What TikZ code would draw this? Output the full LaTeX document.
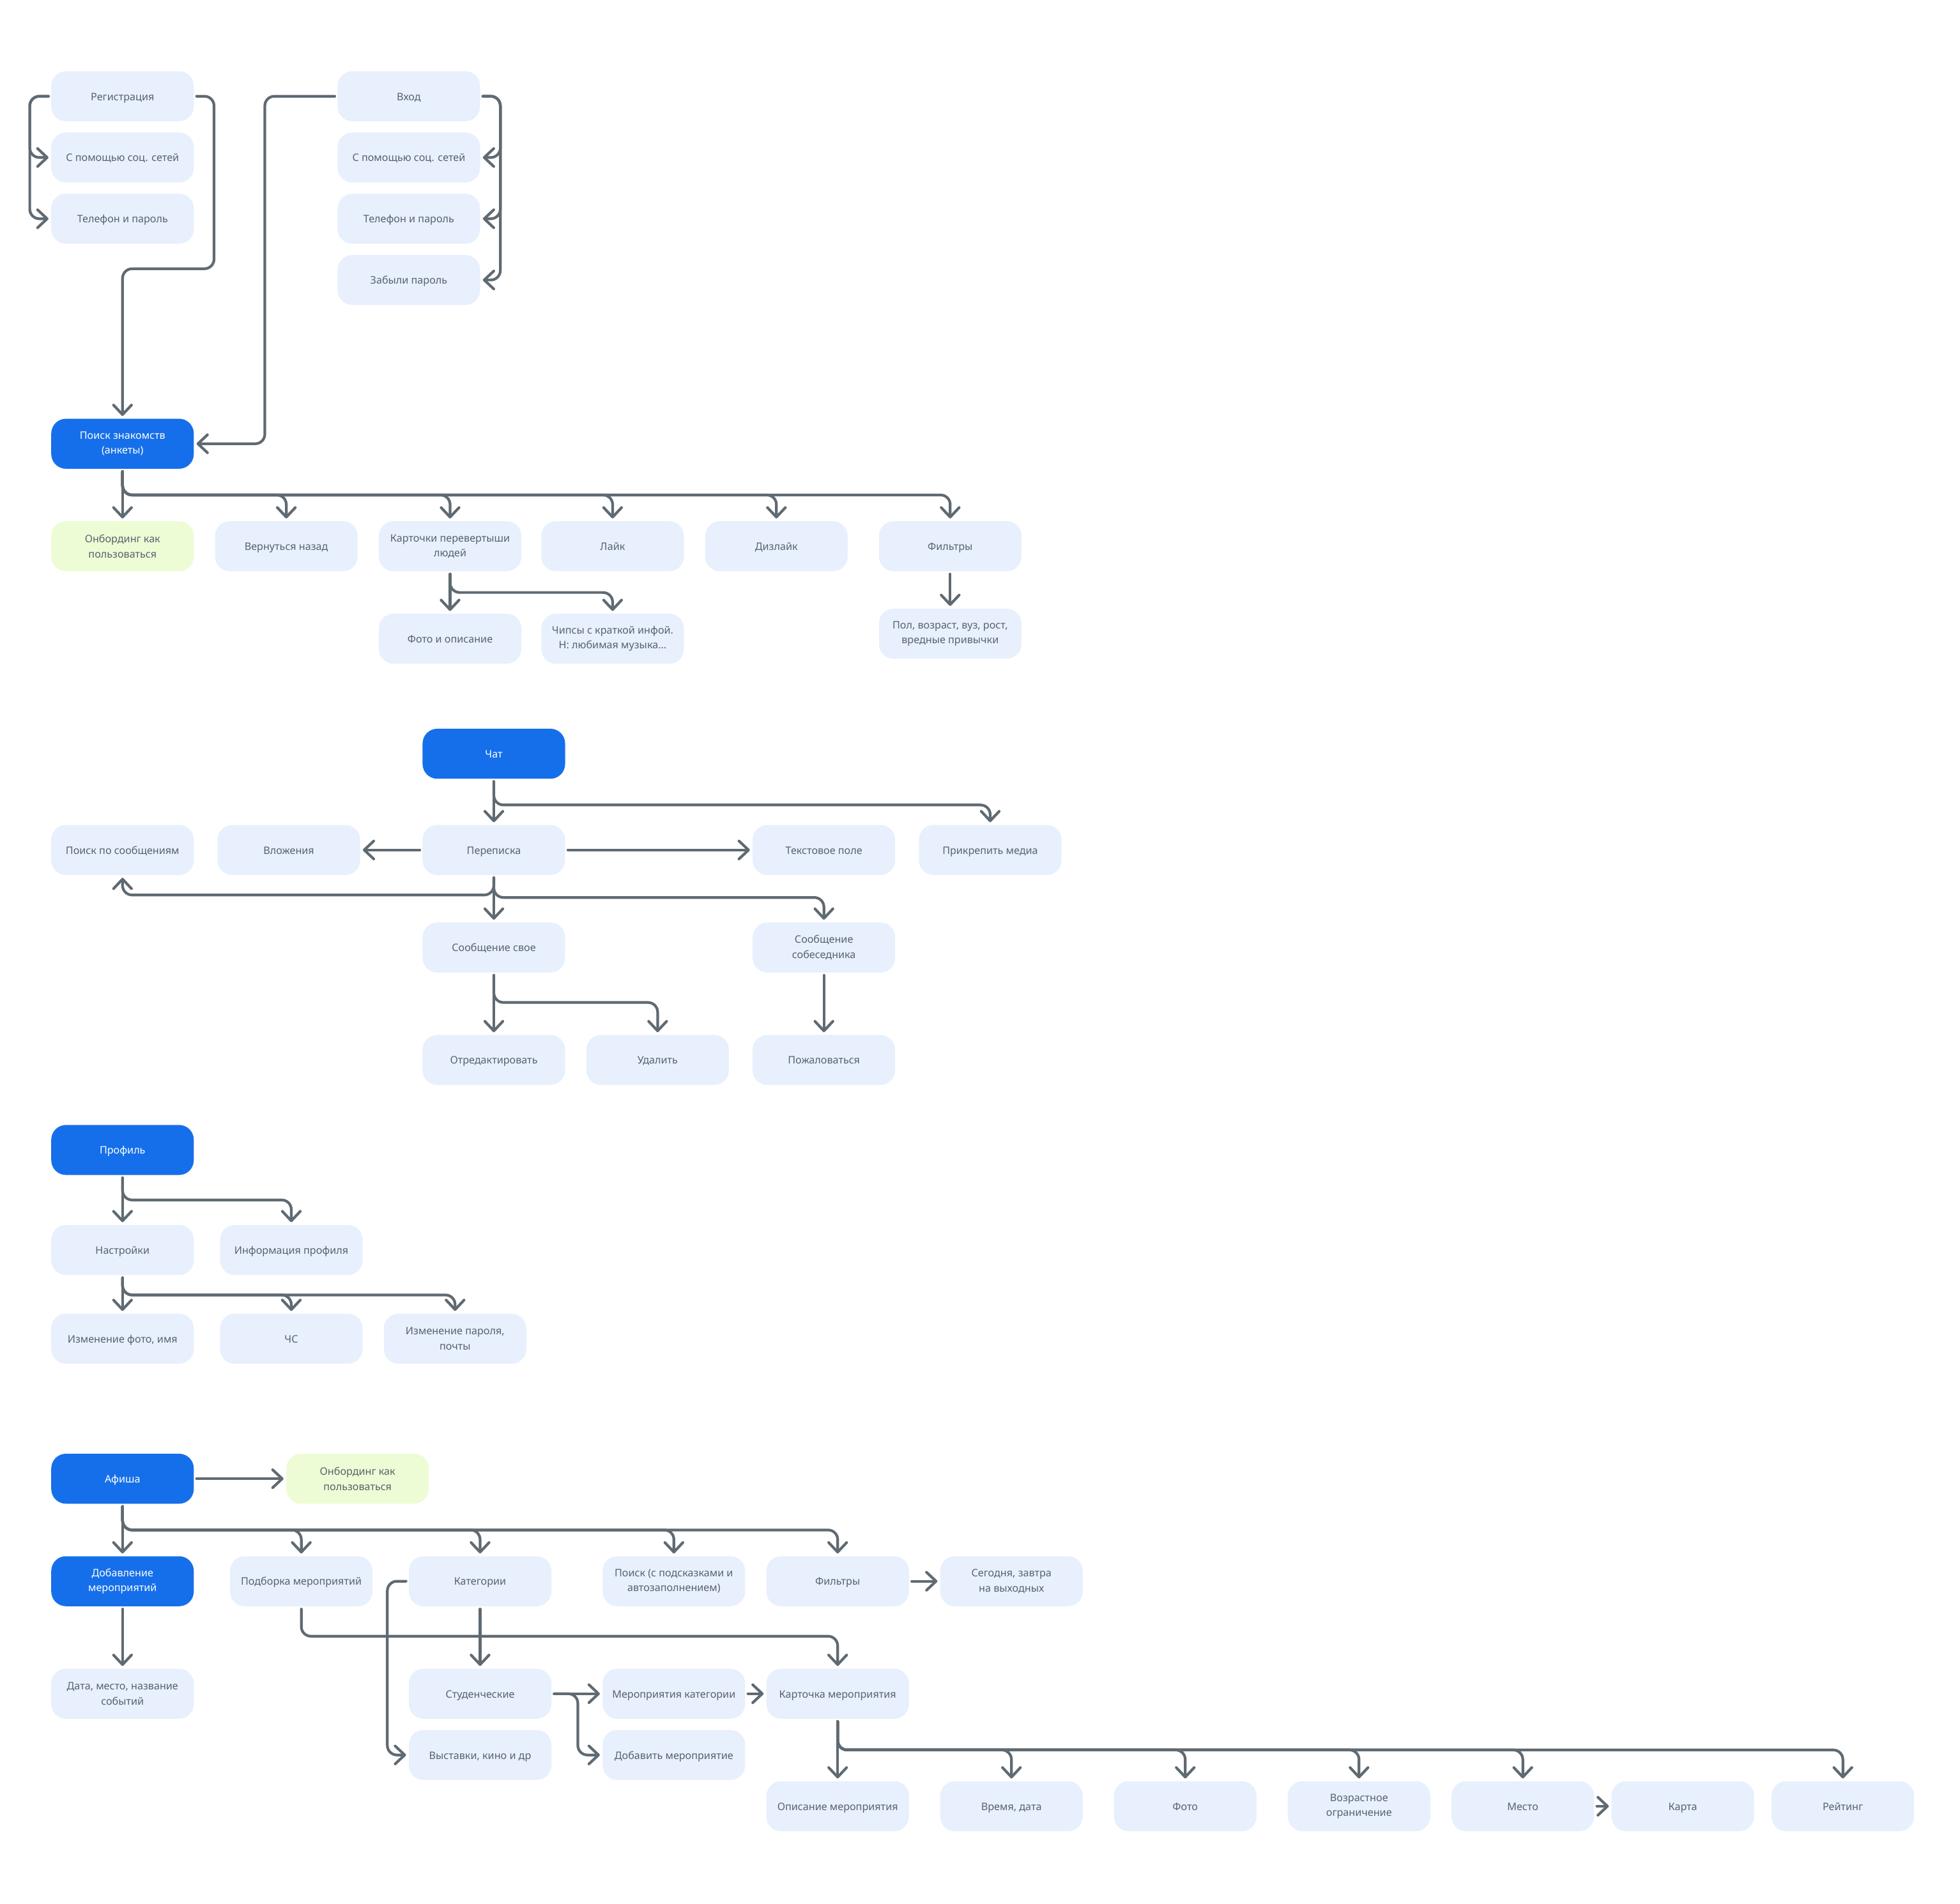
\documentclass[tikz,border=0pt]{standalone}
\usepackage{fontspec}
\setmainfont{Noto Sans}
\usetikzlibrary{arrows.meta,calc}
\definecolor{boxlight}{HTML}{E7F0FC}
\definecolor{boxdark}{HTML}{166FEA}
\definecolor{boxgreen}{HTML}{EDFCD5}
\definecolor{txt}{HTML}{58626C}
\definecolor{wire}{HTML}{5F6A72}
\begin{document}
\begin{tikzpicture}[x=0.03914cm,y=-0.03914cm,
 box/.style={rectangle, rounded corners=0.46cm, minimum width=4.462cm, minimum height=1.566cm, inner sep=0pt, fill=boxlight, text=txt, align=center, font=\fontsize{9.2}{13.3}\selectfont, text height=0.72em, text depth=0pt},
 two/.style={text height={}, text depth={}},
 dbox/.style={box, fill=boxdark, text=white},
 gbox/.style={box, fill=boxgreen},
 conn/.style={draw=wire, line width=2.4pt, rounded corners=0.3cm, line cap=round, shorten <=0.08cm},
 arr/.style={conn, -{Straight Barb[length=8.5pt,width=16pt,round]}, shorten >=0.08cm}
]
\useasboundingbox (0,0) rectangle (1567.7,1522.8);
% ---------- Section 1 ----------
\node[box] (reg) at (98,77) {Регистрация};
\node[box] (regsoc) at (98,126) {С помощью соц. сетей};
\node[box] (regtel) at (98,175) {Телефон и пароль};
\node[box] (vhod) at (327,77) {Вход};
\node[box] (vsoc) at (327,126) {С помощью соц. сетей};
\node[box] (vtel) at (327,175) {Телефон и пароль};
\node[box] (vzab) at (327,224) {Забыли пароль};
\node[dbox,two] (poisk) at (98,355) {Поиск знакомств\\(анкеты)};
\node[gbox,two] (onb1) at (98,437) {Онбординг как\\пользоваться};
\node[box] (vern) at (229,437) {Вернуться назад};
\node[box,two] (kart) at (360,437) {Карточки перевертыши\\людей};
\node[box] (like) at (490,437) {Лайк};
\node[box] (dislike) at (621,437) {Дизлайк};
\node[box] (filt1) at (760,437) {Фильтры};
\node[box] (foto1) at (360,511) {Фото и описание};
\node[box,two] (chips) at (490,511) {Чипсы с краткой инфой.\\Н: любимая музыка...};
\node[box,two] (pol) at (760,507) {Пол, возраст, вуз, рост,\\вредные привычки};
% ---------- Chat ----------
\node[dbox] (chat) at (395,603) {Чат};
\node[box] (psoob) at (98,680) {Поиск по сообщениям};
\node[box] (vlozh) at (231,680) {Вложения};
\node[box] (perep) at (395,680) {Переписка};
\node[box] (tekst) at (659,680) {Текстовое поле};
\node[box] (media) at (792,680) {Прикрепить медиа};
\node[box] (svoe) at (395,758) {Сообщение свое};
\node[box,two] (sobes) at (659,758) {Сообщение\\собеседника};
\node[box] (red) at (395,848) {Отредактировать};
\node[box] (udal) at (526,848) {Удалить};
\node[box] (zhal) at (659,848) {Пожаловаться};
% ---------- Profile ----------
\node[dbox] (prof) at (98,920) {Профиль};
\node[box] (nastr) at (98,1000) {Настройки};
\node[box] (info) at (233,1000) {Информация профиля};
\node[box] (izmf) at (98,1071) {Изменение фото, имя};
\node[box] (chs) at (233,1071) {ЧС};
\node[box,two] (izmp) at (364,1071) {Изменение пароля,\\почты};
% ---------- Afisha ----------
\node[dbox] (afisha) at (98,1183) {Афиша};
\node[gbox,two] (onb2) at (286,1183) {Онбординг как\\пользоваться};
\node[dbox,two] (dobm) at (98,1265) {Добавление\\мероприятий};
\node[box] (podb) at (241,1265) {Подборка мероприятий};
\node[box] (kat) at (384,1265) {Категории};
\node[box,two] (poisk2) at (539,1265) {Поиск (с подсказками и\\автозаполнением)};
\node[box] (filt2) at (670,1265) {Фильтры};
\node[box,two] (segod) at (809,1265) {Сегодня, завтра\\на выходных};
\node[box,two] (data) at (98,1355) {Дата, место, название\\событий};
\node[box] (stud) at (384,1355) {Студенческие};
\node[box] (merk) at (539,1355) {Мероприятия категории};
\node[box] (kartm) at (670,1355) {Карточка мероприятия};
\node[box] (vyst) at (384,1404) {Выставки, кино и др};
\node[box] (dobavm) at (539,1404) {Добавить мероприятие};
\node[box] (opis) at (670,1445) {Описание мероприятия};
\node[box] (vrem) at (809,1445) {Время, дата};
\node[box] (foto2) at (948,1445) {Фото};
\node[box,two] (vozr) at (1087,1445) {Возрастное\\ограничение};
\node[box] (mesto) at (1218,1445) {Место};
\node[box] (karta) at (1346,1445) {Карта};
\node[box] (reit) at (1474,1445) {Рейтинг};
% bus levels
\coordinate (b1) at (0,396);
\coordinate (b2) at (0,474);
\coordinate (b3) at (0,644);
\coordinate (b4l) at (0,716);
\coordinate (b4r) at (0,718);
\coordinate (b5) at (0,802);
\coordinate (b6) at (0,960);
\coordinate (b7) at (0,1036);
\coordinate (b8) at (0,1224);
\coordinate (b9) at (0,1309);
\coordinate (b10) at (0,1400);
% ---------- Connectors: section 1 ----------
\draw[arr] (reg.west) -- ++(-17,0) |- (regsoc.west);
\draw[arr] (reg.west) -- ++(-17,0) |- (regtel.west);
\draw[arr] (reg.east) -- ++(16,0) -- ++(0,138) -| (poisk.north);
\draw[arr] (vhod.west) -- ++(-58,0) |- (poisk.east);
\draw[arr] (vhod.east) -- ++(16,0) |- (vsoc.east);
\draw[arr] (vhod.east) -- ++(16,0) |- (vtel.east);
\draw[arr] (vhod.east) -- ++(16,0) |- (vzab.east);
\draw[arr] (poisk.south) -- (onb1.north);
\foreach \c in {vern,kart,like,dislike,filt1}
  \draw[arr] (poisk.south) |- (\c.north |- b1) -- (\c.north);
\draw[arr] (kart.south) -- (foto1.north);
\draw[arr] (kart.south) |- (chips.north |- b2) -- (chips.north);
\draw[arr] (filt1.south) -- (pol.north);
% ---------- Chat ----------
\draw[arr] (chat.south) -- (perep.north);
\draw[arr] (chat.south) |- (media.north |- b3) -- (media.north);
\draw[arr] (perep.west) -- (vlozh.east);
\draw[arr] (perep.east) -- (tekst.west);
\draw[arr] (perep.south) -- (svoe.north);
\draw[arr] (perep.south) |- (sobes.north |- b4r) -- (sobes.north);
\draw[arr] (perep.south) |- (psoob.south |- b4l) -- (psoob.south);
\draw[arr] (svoe.south) -- (red.north);
\draw[arr] (svoe.south) |- (udal.north |- b5) -- (udal.north);
\draw[arr] (sobes.south) -- (zhal.north);
% ---------- Profile ----------
\draw[arr] (prof.south) -- (nastr.north);
\draw[arr] (prof.south) |- (info.north |- b6) -- (info.north);
\draw[arr] (nastr.south) -- (izmf.north);
\foreach \c in {chs,izmp}
  \draw[arr] (nastr.south) |- (\c.north |- b7) -- (\c.north);
% ---------- Afisha ----------
\draw[arr] (afisha.east) -- (onb2.west);
\draw[arr] (afisha.south) -- (dobm.north);
\foreach \c in {podb,kat,poisk2,filt2}
  \draw[arr] (afisha.south) |- (\c.north |- b8) -- (\c.north);
\draw[arr] (filt2.east) -- (segod.west);
\draw[arr] (dobm.south) -- (data.north);
\draw[arr] (podb.south) |- (kartm.north |- b9) -- (kartm.north);
\draw[arr] (kat.south) -- (stud.north);
\draw[arr] (kat.west) -- ++(-17,0) |- (vyst.west);
\draw[arr] (stud.east) -- (merk.west);
\draw[arr] (stud.east) -- ++(21,0) |- (dobavm.west);
\draw[arr] (merk.east) -- (kartm.west);
\draw[arr] (kartm.south) -- (opis.north);
\foreach \c in {vrem,foto2,vozr,mesto,reit}
  \draw[arr] (kartm.south) |- (\c.north |- b10) -- (\c.north);
\draw[arr] (mesto.east) -- (karta.west);
\end{tikzpicture}
\end{document}
